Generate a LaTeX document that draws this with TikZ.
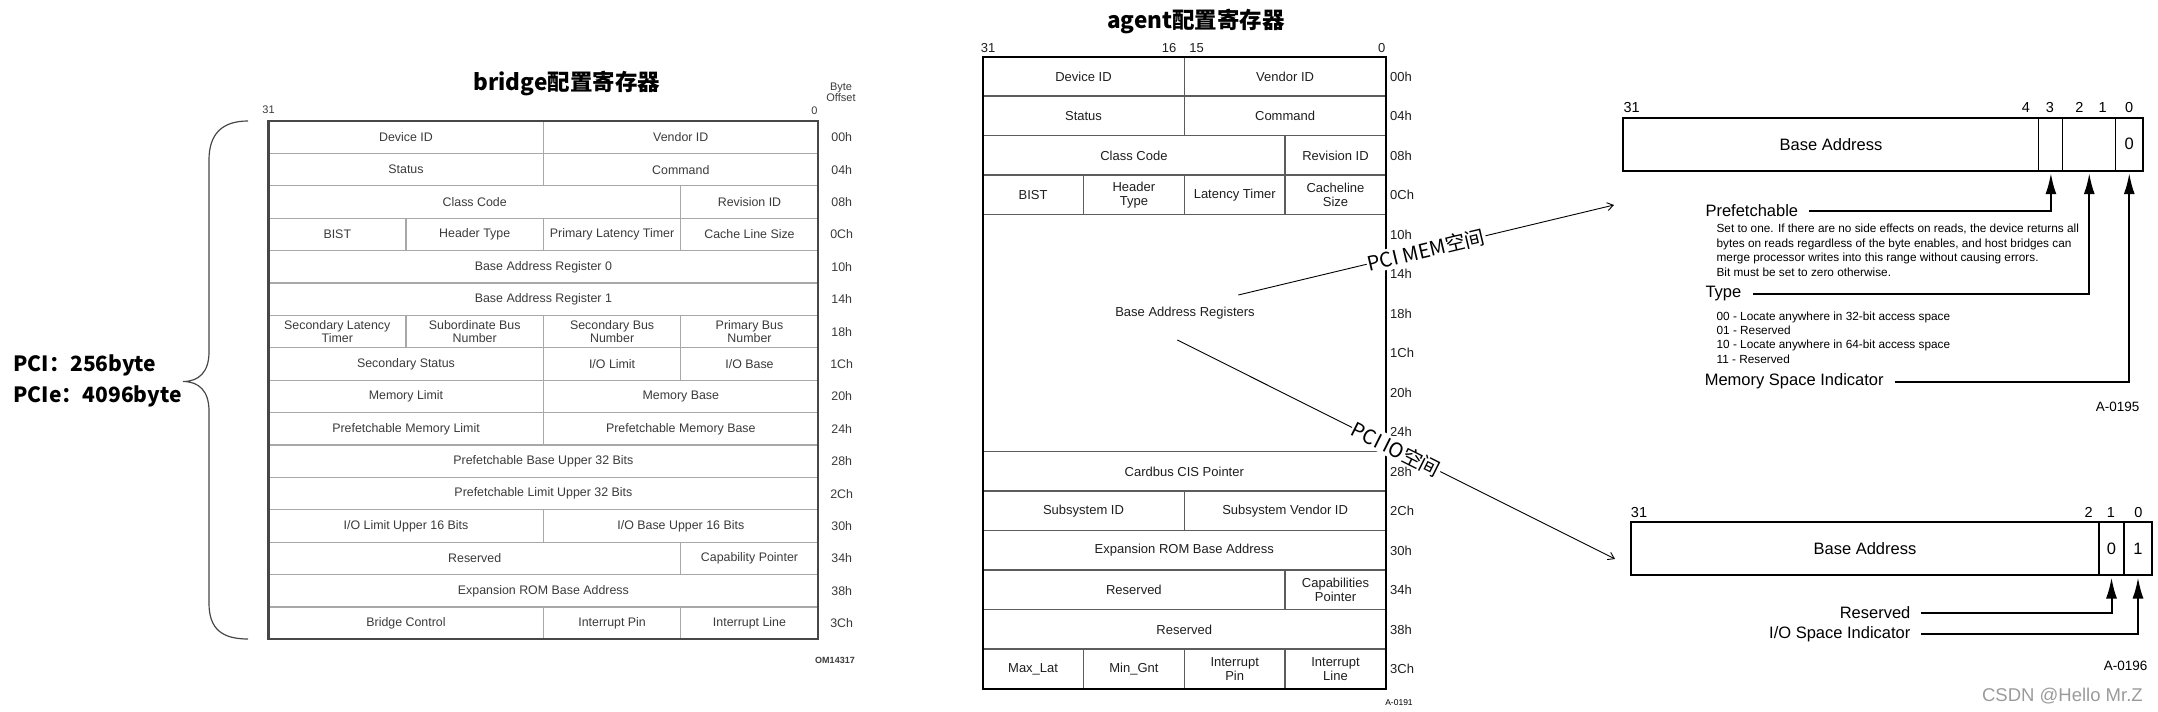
\documentclass[tikz,border=0pt]{standalone}
\usepackage{fontspec}
\setmainfont{Liberation Sans}
\newfontfamily\cjkfont{Noto Sans CJK SC}
\usetikzlibrary{arrows.meta, positioning, calc}
\definecolor{brLine}{HTML}{A8A8A8}
\definecolor{brEdge}{HTML}{474747}
\definecolor{brInk}{HTML}{3A3A3A}
\definecolor{agLine}{HTML}{5C5C5C}
\definecolor{agInk}{HTML}{1E1E1E}
\definecolor{markGray}{HTML}{9B9B9B}
\newcommand{\pxfont}[2]{\fontsize{#1}{#2}\selectfont}

\begin{document}
\begin{tikzpicture}[x=1pt,y=-1pt,
  brtext/.style={font=\pxfont{12.4}{12.7},text=brInk,align=center,inner sep=0pt},
  agtext/.style={font=\pxfont{13}{14},text=agInk,align=center,inner sep=0pt},
  brsmall/.style={font=\pxfont{11}{11},text=brInk,align=center,inner sep=0pt},
  headline/.style={font=\cjkfont\bfseries\pxfont{22.5}{24},inner sep=0pt},
  bitlbl/.style={font=\pxfont{14.5}{15},inner sep=0pt},
  barfield/.style={draw=black,line width=1.1pt,minimum height=53pt,inner sep=0pt,outer sep=0pt,anchor=north west,font=\pxfont{16.5}{17}},
  barlbl/.style={font=\pxfont{16.5}{17},inner sep=0pt},
  bardesc/.style={font=\pxfont{11.8}{14},inner sep=0pt,anchor=base west},
  barrow/.style={line width=2pt,-{Latex[length=21pt,width=11pt]}},
  spacelink/.style={line width=0.9pt,-{Straight Barb[length=6pt,width=8pt]}},
  spacelbl/.style={font=\cjkfont\pxfont{20}{20},fill=white,inner sep=1pt,sloped,midway}
]
\useasboundingbox (0,0) rectangle (2158,712);

% bridge header
\newcommand{\brfield}[5]{%
  \draw[brLine,line width=1.3pt] ({268.6+#3*137.4},{121+#2*32.4}) rectangle ({268.6+#4*137.4},{153.4+#2*32.4});
  \node[brtext] (#1) at ({268.6+(#3+#4)*68.7},{137.2+#2*32.4}) {#5};
}
\node[headline] (brtitle) at (566.7,83.3) {bridge配置寄存器};
\node[brsmall] (brhi) at (268.6,110) {31};
\node[brsmall] (brlo) at (814.3,110.7) {0};
\node[brsmall] (brbyte) at (841,92.2) {Byte\\Offset};
\brfield{brdev}{0}{0}{2}{Device ID}
\brfield{brven}{0}{2}{4}{Vendor ID}
\brfield{brsts}{1}{0}{2}{Status}
\brfield{brcmd}{1}{2}{4}{Command}
\brfield{brcls}{2}{0}{3}{Class Code}
\brfield{brrev}{2}{3}{4}{Revision ID}
\brfield{brbist}{3}{0}{1}{BIST}
\brfield{brhdr}{3}{1}{2}{Header Type}
\brfield{brplt}{3}{2}{3}{Primary Latency Timer}
\brfield{brcls2}{3}{3}{4}{Cache Line Size}
\brfield{brbar0}{4}{0}{4}{Base Address Register 0}
\brfield{brbar1}{5}{0}{4}{Base Address Register 1}
\brfield{brslt}{6}{0}{1}{Secondary Latency\\Timer}
\brfield{brsub}{6}{1}{2}{Subordinate Bus\\Number}
\brfield{brsec}{6}{2}{3}{Secondary Bus\\Number}
\brfield{brpri}{6}{3}{4}{Primary Bus\\Number}
\brfield{brsst}{7}{0}{2}{Secondary Status}
\brfield{briol}{7}{2}{3}{I/O Limit}
\brfield{briob}{7}{3}{4}{I/O Base}
\brfield{brml}{8}{0}{2}{Memory Limit}
\brfield{brmb}{8}{2}{4}{Memory Base}
\brfield{brpml}{9}{0}{2}{Prefetchable Memory Limit}
\brfield{brpmb}{9}{2}{4}{Prefetchable Memory Base}
\brfield{brpbu}{10}{0}{4}{Prefetchable Base Upper 32 Bits}
\brfield{brplu}{11}{0}{4}{Prefetchable Limit Upper 32 Bits}
\brfield{briolu}{12}{0}{2}{I/O Limit Upper 16 Bits}
\brfield{briobu}{12}{2}{4}{I/O Base Upper 16 Bits}
\brfield{brres}{13}{0}{3}{Reserved}
\brfield{brcap}{13}{3}{4}{Capability Pointer}
\brfield{brrom}{14}{0}{4}{Expansion ROM Base Address}
\brfield{brctl}{15}{0}{2}{Bridge Control}
\brfield{brpin}{15}{2}{3}{Interrupt Pin}
\brfield{brline}{15}{3}{4}{Interrupt Line}
\draw[brEdge,line width=2.4pt] (268.6,121) rectangle (818.2,639);
\foreach \off [count=\r from 0] in {00h,04h,08h,0Ch,10h,14h,18h,1Ch,20h,24h,28h,2Ch,30h,34h,38h,3Ch}
  \node[brtext] (broff\r) at (841.7,{137.2+\r*32.4}) {\off};
\node[font=\bfseries\pxfont{9}{9},text=brInk,inner sep=0pt] (brfig) at (835,660) {OM14317};

% size brace
\draw[brEdge,line width=1.2pt] (248,121) .. controls (222,121) and (209,134) .. (209,160) -- (209,352)
  .. controls (209,372) and (199,381.5) .. (183,381.5) .. controls (199,381.5) and (209,391) .. (209,411)
  -- (209,603) .. controls (209,629) and (222,639) .. (248,639);
\node[font=\cjkfont\bfseries\pxfont{21}{21},anchor=west,inner sep=0pt] (pcisize) at (13.3,365) {PCI：256byte};
\node[font=\cjkfont\bfseries\pxfont{21}{21},anchor=west,inner sep=0pt] (pciesize) at (13.3,396.7) {PCIe：4096byte};

% agent header
\newcommand{\agfield}[5]{%
  \draw[agLine,line width=1.5pt] ({982.7+#3*100.8},{56.7+#2*39.5}) rectangle ({982.7+#4*100.8},{96.2+#2*39.5});
  \node[agtext] (#1) at ({982.7+(#3+#4)*50.4},{76.45+#2*39.5}) {#5};
}
\node[headline] (agtitle) at (1196,21.7) {agent配置寄存器};
\node[agtext] (agb31) at (988,48.3) {31};
\node[agtext] (agb16) at (1169,48.3) {16};
\node[agtext] (agb15) at (1196.7,48.3) {15};
\node[agtext] (agb0) at (1381.7,48.3) {0};
\agfield{agdev}{0}{0}{2}{Device ID}
\agfield{agven}{0}{2}{4}{Vendor ID}
\agfield{agsts}{1}{0}{2}{Status}
\agfield{agcmd}{1}{2}{4}{Command}
\agfield{agcls}{2}{0}{3}{Class Code}
\agfield{agrev}{2}{3}{4}{Revision ID}
\agfield{agbist}{3}{0}{1}{BIST}
\agfield{aghdr}{3}{1}{2}{Header\\Type}
\agfield{aglat}{3}{2}{3}{Latency Timer}
\agfield{agcache}{3}{3}{4}{Cacheline\\Size}
\draw[agLine,line width=1.5pt] (982.7,214.7) rectangle (1386,451.7);
\node[agtext] (agbar) at (1185,313) {Base Address Registers};
\agfield{agcis}{10}{0}{4}{Cardbus CIS Pointer}
\agfield{agssid}{11}{0}{2}{Subsystem ID}
\agfield{agssvid}{11}{2}{4}{Subsystem Vendor ID}
\agfield{agrom}{12}{0}{4}{Expansion ROM Base Address}
\agfield{agres}{13}{0}{3}{Reserved}
\agfield{agcap}{13}{3}{4}{Capabilities\\Pointer}
\agfield{agres2}{14}{0}{4}{Reserved}
\agfield{agmaxl}{15}{0}{1}{Max\_Lat}
\agfield{agming}{15}{1}{2}{Min\_Gnt}
\agfield{agpin}{15}{2}{3}{Interrupt\\Pin}
\agfield{agline}{15}{3}{4}{Interrupt\\Line}
\draw[black,line width=2.2pt] (982.7,56.7) rectangle (1386,688.7);
\foreach \off [count=\r from 0] in {00h,04h,08h,0Ch,10h,14h,18h,1Ch,20h,24h,28h,2Ch,30h,34h,38h,3Ch}
  \node[agtext,anchor=west] (agoff\r) at (1390,{76.45+\r*39.5}) {\off};
\node[font=\pxfont{8.5}{9},inner sep=0pt] (agfig) at (1399,703) {A-0191};

% memory BAR
\node[barfield,minimum width=415.8pt] (memaddr) at (1623.1,117.7) {Base Address};
\node[barfield,minimum width=24pt] (memb3) at (memaddr.north east) {};
\node[barfield,minimum width=52.7pt] (memb21) at (memb3.north east) {};
\node[barfield,minimum width=27.3pt] (memb0) at (memb21.north east) {0};
\draw[line width=2pt] (memaddr.north west) rectangle (memb0.south east);
\node[bitlbl] (memn31) at (1631.6,107.3) {31};
\node[bitlbl] (memn4) at (2026,107.3) {4};
\node[bitlbl] (memn3) at (2050,107.3) {3};
\node[bitlbl] (memn2) at (2079.5,107.3) {2};
\node[bitlbl] (memn1) at (2102.7,107.3) {1};
\node[bitlbl] (memn0) at (2129.2,107.3) {0};
\node[barlbl,anchor=west] (prefetch) at (1705.3,210.7) {Prefetchable};
\node[barlbl,anchor=west] (memtype) at (1705.3,294) {Type};
\node[barlbl,anchor=west] (memspace) at (1704.6,381.7) {Memory Space Indicator};
\foreach \txt [count=\i from 0] in {{Set to one. If there are no side effects on reads, the device returns all},
  {bytes on reads regardless of the byte enables, and host bridges can},
  {merge processor writes into this range without causing errors.},
  {Bit must be set to zero otherwise.}}
  \node[bardesc] (prefdesc\i) at (1716.4,{232.5+\i*14.5}) {\txt};
\foreach \txt [count=\i from 0] in {00 - Locate anywhere in 32-bit access space, 01 - Reserved,
  10 - Locate anywhere in 64-bit access space, 11 - Reserved}
  \node[bardesc] (typedesc\i) at (1716.4,{320.2+\i*14.3}) {\txt};
\draw[barrow] ([xshift=11pt]prefetch.east) -| ([yshift=-2.5pt]memb3.south);
\draw[barrow] ([xshift=11.5pt]memtype.east) -| ([yshift=-2.5pt]memb21.south);
\draw[barrow] ([xshift=11.5pt]memspace.east) -| ([yshift=-2.5pt]memb0.south);
\node[font=\pxfont{13.5}{14},anchor=east,inner sep=0pt] (memfig) at (2139.5,407.3) {A-0195};

% io BAR
\node[barfield,line width=2pt,minimum width=468.1pt,minimum height=53.3pt] (ioaddr) at (1630.9,521.7) {Base Address};
\node[barfield,line width=2pt,minimum width=25pt,minimum height=53.3pt] (iob1) at (ioaddr.north east) {0};
\node[barfield,line width=2pt,minimum width=28pt,minimum height=53.3pt] (iob0) at (iob1.north east) {1};
\node[bitlbl] (ion31) at (1639,512.3) {31};
\node[bitlbl] (ion2) at (2088.7,512.3) {2};
\node[bitlbl] (ion1) at (2110.8,512.3) {1};
\node[bitlbl] (ion0) at (2138.4,512.3) {0};
\node[barlbl,anchor=east] (iores) at (1910.6,612.7) {Reserved};
\node[barlbl,anchor=east] (ioind) at (1910.6,634) {I/O Space Indicator};
\draw[barrow] ([xshift=10.4pt]iores.east) -| ([yshift=-2.5pt]iob1.south);
\draw[barrow] ([xshift=10.4pt]ioind.east) -| ([yshift=-2.5pt]iob0.south);
\node[font=\pxfont{13.5}{14},anchor=east,inner sep=0pt] (iofig) at (2147.6,665.7) {A-0196};
\node[font=\pxfont{18.5}{19},text=markGray,anchor=east,inner sep=0pt] (mark) at (2142.9,696) {CSDN @Hello Mr.Z};

% space links
\coordinate (memfrom) at (1238.3,295);
\coordinate (memto) at (1614,205);
\coordinate (iofrom) at (1177.3,340);
\coordinate (ioto) at (1615,559);
\draw[spacelink] (memfrom) -- node[spacelbl] (memtag) {PCI MEM空间} (memto);
\draw[spacelink] (iofrom) -- node[spacelbl] (iotag) {PCI IO空间} (ioto);
\end{tikzpicture}
\end{document}
